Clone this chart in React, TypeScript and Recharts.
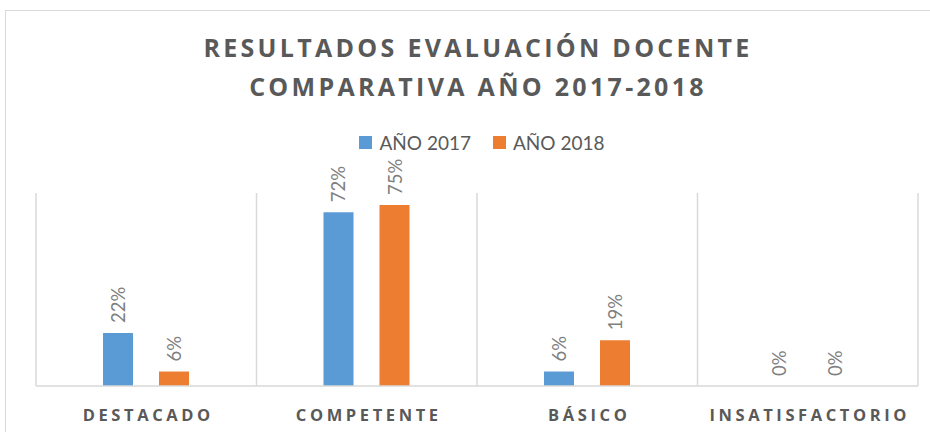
import React from 'react';
import { BarChart, Bar, XAxis, YAxis, CartesianGrid, Legend, LabelList } from 'recharts';

const categories = ['DESTACADO', 'COMPETENTE', 'BÁSICO', 'INSATISFACTORIO'];
const valores2017 = [0.22, 0.72, 0.06, 0];
const valores2018 = [0.06, 0.75, 0.19, 0];
const series = [
  { key: 'y2017', name: 'AÑO 2017', color: '#5B9BD5', values: valores2017 },
  { key: 'y2018', name: 'AÑO 2018', color: '#ED7D31', values: valores2018 },
];

const data = categories.map((cat, i) => ({
  cat,
  y2017: valores2017[i],
  y2018: valores2018[i],
}));

const GRAY = '#595959';
const GRID = '#d9d9d9';

function CategoryTick({ x, y, payload }: any) {
  return (
    <text
      x={x + 2}
      y={y + 27}
      textAnchor="middle"
      fill={GRAY}
      fontFamily="'Open Sans', sans-serif"
      fontWeight={700}
      fontSize={16.5}
      letterSpacing={3.6}
    >
      {payload.value}
    </text>
  );
}

function PctLabel({ x, y, width, value }: any) {
  const cx = x + width / 2;
  const cy = y - 10;
  return (
    <text
      x={cx}
      y={cy}
      transform={`rotate(-90 ${cx} ${cy})`}
      textAnchor="start"
      dominantBaseline="central"
      fill="#7f7f7f"
      fontFamily="Lato, sans-serif"
      fontSize={18.5}
    >
      {Math.round(value * 100)}%
    </text>
  );
}

function LegendBox() {
  return (
    <div style={{ display: 'flex', justifyContent: 'center', gap: 22, paddingLeft: 34, fontFamily: 'Lato, sans-serif', fontSize: 19, color: GRAY }}>
      {series.map(s => (
        <div key={s.key} style={{ display: 'flex', alignItems: 'center', gap: 7 }}>
          <span style={{ width: 13, height: 13, background: s.color, display: 'inline-block' }} />
          <span>{s.name}</span>
        </div>
      ))}
    </div>
  );
}

export default function App() {
  return (
    <div style={{ position: 'absolute', left: 0, top: 0, width: 930, height: 432, overflow: 'hidden', background: '#fff' }}>
      <div style={{ position: 'absolute', left: 5, top: 10, width: 1000, height: 500, border: `1.5px solid ${GRID}` }} />
      <div
        style={{
          position: 'absolute',
          left: 13,
          top: 28,
          width: 930,
          textAlign: 'center',
          fontFamily: "'Open Sans', sans-serif",
          fontWeight: 700,
          fontSize: 25,
          letterSpacing: 3.3,
          lineHeight: '39px',
          color: GRAY,
        }}
      >
        RESULTADOS EVALUACIÓN DOCENTE
        <br />
        COMPARATIVA AÑO 2017-2018
      </div>
      <BarChart
        width={930}
        height={432}
        data={data}
        margin={{ top: 193, right: 12, bottom: 16, left: 36 }}
        barSize={30}
        barGap={26}
        style={{ position: 'absolute', left: 0, top: 0 }}
      >
        <CartesianGrid
          horizontal={false}
          stroke={GRID}
          strokeWidth={1.5}
          verticalCoordinatesGenerator={({ offset }: any) =>
            Array.from({ length: categories.length + 1 }, (_, i) => offset.left + (i * offset.width) / categories.length)
          }
        />
        <XAxis
          dataKey="cat"
          height={30}
          tickLine={false}
          axisLine={{ stroke: GRID, strokeWidth: 1.5 }}
          tick={<CategoryTick />}
          interval={0}
        />
        <YAxis hide domain={[0, 0.8]} />
        <Legend
          layout="horizontal"
          verticalAlign="middle"
          align="center"
          content={() => <LegendBox />}
          wrapperStyle={{ top: 131, left: 0, width: 930 }}
        />
        {series.map(s => (
          <Bar key={s.key} dataKey={s.key} name={s.name} fill={s.color} minPointSize={0.01} isAnimationActive={false}>
            <LabelList dataKey={s.key} content={<PctLabel />} />
          </Bar>
        ))}
      </BarChart>
    </div>
  );
}
